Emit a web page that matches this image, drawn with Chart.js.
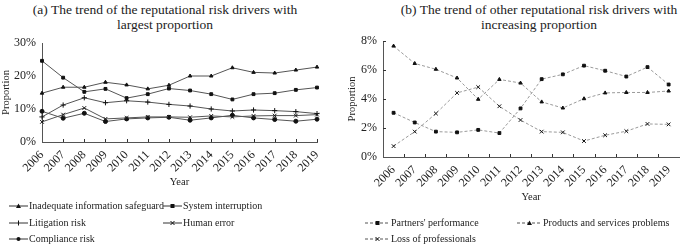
<!DOCTYPE html>
<html>
<head>
<meta charset="utf-8">
<script src="https://cdn.jsdelivr.net/npm/chart.js@4/dist/chart.umd.min.js"></script>
<style>
  html, body { margin:0; padding:0; background:#fff; }
  body { width:685px; height:245px; position:relative; overflow:hidden; font-family:'Liberation Serif','Times New Roman',serif; color:#222; }
  .title { position:absolute; text-align:center; font-size:13.5px; line-height:15px; color:#222; }
  canvas { position:absolute; top:0; }
  .leg { position:absolute; font-size:10px; line-height:12px; color:#222; white-space:nowrap; display:flex; align-items:center; }
  .leg svg { margin-right:1px; }
</style>
</head>
<body>
<div class="title" style="left:0;width:330px;top:2px;">(a) The trend of the reputational risk drivers with<br>largest proportion</div>
<div class="title" style="left:339px;width:400px;top:2px;">(b) The trend of other reputational risk drivers with<br>increasing proportion</div>
<div id="wrapA" style="position:absolute;left:0;top:0;width:340px;height:245px;"><canvas id="chartA" width="340" height="245"></canvas></div>
<div id="wrapB" style="position:absolute;left:340px;top:0;width:345px;height:245px;"><canvas id="chartB" width="345" height="245"></canvas></div>
<div id="legends"></div>
<script>
// ---- data ----
const years = ['2006','2007','2008','2009','2010','2011','2012','2013','2014','2015','2016','2017','2018','2019'];

const labelsA = ['Inadequate information safeguard','System interruption','Litigation risk','Human error','Compliance risk'];
const infoSafeguard      = [14.8,16.6,16.6,18.1,17.3,16.1,17.2,20.0,20.0,22.5,21.1,20.9,21.8,22.7];
const systemInterruption = [24.6,19.5,15.2,16.1,13.3,14.5,16.2,15.6,14.5,12.9,14.5,14.8,15.8,16.5];
const litigationRisk     = [7.6,11.2,13.4,11.9,12.5,12.1,11.4,10.9,10.0,9.4,9.7,9.5,9.2,8.6];
const humanError         = [6.1,8.3,10.3,7.0,7.3,7.6,7.6,7.5,7.9,7.6,7.9,8.0,8.0,8.3];
const complianceRisk     = [9.3,7.2,8.7,6.2,7.0,7.3,7.5,6.6,7.3,8.1,7.3,6.8,6.3,6.9];
const yTicksA = ['0%','5%','10%','15%','20%','25%','30%'];

const labelsB = ["Partners' performance",'Products and services problems','Loss of professionals'];
const partners      = [3.05,2.38,1.75,1.70,1.87,1.65,3.35,5.37,5.70,6.30,5.95,5.55,6.20,5.00];
const products      = [7.65,6.45,6.05,5.45,3.98,5.35,5.10,3.80,3.38,4.02,4.42,4.45,4.45,4.55];
const professionals = [0.75,1.75,3.00,4.42,4.82,3.50,2.55,1.75,1.70,1.10,1.50,1.78,2.28,2.25];
const yTicksB = ['0%','1%','2%','3%','4%','5%','6%','7%','8%'];

// ---- styling ----
Chart.defaults.font.family = "'Liberation Serif','Times New Roman',serif";
Chart.defaults.font.size = 12;
Chart.defaults.color = '#222';

const stylesA = ['triangle','rect','cross','crossRot','circle'];
const stylesB = ['rect','triangle','crossRot'];

const innerTicks = {
  id: 'innerTicks',
  afterDraw(chart, args, opts) {
    const ctx = chart.ctx, xs = chart.scales.x, ys = chart.scales.y;
    ctx.save();
    ctx.strokeStyle = '#333';
    ctx.lineWidth = 1;
    ctx.beginPath();
    const n = chart.data.labels.length;
    if (opts.mode === 'center') {
      for (let i = 1; i < n; i++) {
        const px = Math.round(xs.getPixelForValue(i)) + 0.5;
        ctx.moveTo(px, xs.top); ctx.lineTo(px, xs.top - 3);
      }
    } else {
      for (let i = 0; i < n - 1; i++) {
        const px = Math.round((xs.getPixelForValue(i) + xs.getPixelForValue(i + 1)) / 2) + 0.5;
        ctx.moveTo(px, xs.top); ctx.lineTo(px, xs.top - 3);
      }
    }
    if (opts.yTicks) {
      ys.ticks.forEach((t, i) => {
        if (i === 0) return;
        const py = Math.round(ys.getPixelForTick(i)) + 0.5;
        ctx.moveTo(ys.right, py); ctx.lineTo(ys.right + 3, py);
      });
    }
    ctx.stroke();
    ctx.restore();
  }
};

function mkDataset(label, data, style, dashed) {
  return {
    label, data,
    borderColor: dashed ? '#9a9a9a' : '#555',
    borderWidth: 1,
    borderDash: dashed ? [3, 2] : [],
    pointStyle: style,
    pointRadius: style === 'cross' || style === 'crossRot' ? 2.6 : 2,
    pointBackgroundColor: '#111',
    pointBorderColor: '#111',
    pointBorderWidth: 1,
    tension: 0,
    fill: false
  };
}

function scaleOpts(tickLabels, max, step, yWidth, yTitlePad, offset) {
  return {
    x: {
      type: 'category',
      offset: offset,
      grid: { display: true, drawOnChartArea: false, drawTicks: false, offset: offset },
      border: { display: true, color: '#555' },
      ticks: { minRotation: 45, maxRotation: 45, padding: 6, autoSkip: false, color: '#222', font: { size: 12 } },
      title: { display: true, text: 'Year', color: '#222', font: { size: 10.5 }, padding: { top: 2, bottom: 0 } },
      afterFit(s) { s.height = 47; }
    },
    y: {
      min: 0, max: max,
      grid: { display: true, drawOnChartArea: false, drawTicks: false },
      border: { display: true, color: '#555' },
      ticks: {
        stepSize: step, padding: 6, color: '#222', font: { size: 12 },
        callback: (v, i) => tickLabels[i]
      },
      title: { display: true, text: 'Proportion', color: '#222', font: { size: 10.5 }, padding: { top: yTitlePad, bottom: 0 } },
      afterFit(s) { s.width = yWidth; }
    }
  };
}

new Chart(document.getElementById('chartA'), {
  type: 'line',
  data: {
    labels: years,
    datasets: [
      mkDataset(labelsA[0], infoSafeguard, stylesA[0], false),
      mkDataset(labelsA[1], systemInterruption, stylesA[1], false),
      mkDataset(labelsA[2], litigationRisk, stylesA[2], false),
      mkDataset(labelsA[3], humanError, stylesA[3], false),
      mkDataset(labelsA[4], complianceRisk, stylesA[4], false)
    ]
  },
  options: {
    responsive: false, animation: false,
    layout: { padding: { left: 0, right: 23, top: 43, bottom: 56 } },
    plugins: { legend: { display: false }, tooltip: { enabled: false }, innerTicks: { mode: 'center', yTicks: false } },
    scales: scaleOpts(yTicksA, 30, 5, 42, 0, false)
  },
  plugins: [innerTicks]
});

new Chart(document.getElementById('chartB'), {
  type: 'line',
  data: {
    labels: years,
    datasets: [
      mkDataset(labelsB[0], partners, stylesB[0], true),
      mkDataset(labelsB[1], products, stylesB[1], true),
      mkDataset(labelsB[2], professionals, stylesB[2], true)
    ]
  },
  options: {
    responsive: false, animation: false,
    layout: { padding: { left: 0, right: 1, top: 41, bottom: 41 } },
    plugins: { legend: { display: false }, tooltip: { enabled: false }, innerTicks: { mode: 'between', yTicks: true } },
    scales: scaleOpts(yTicksB, 8, 1, 43, 6, true)
  },
  plugins: [innerTicks]
});

// ---- HTML legends ----
function markerSvg(style, cx, cy) {
  const c = '#111';
  if (style === 'triangle') return `<polygon points="${cx},${cy-2.5} ${cx+2.5},${cy+2} ${cx-2.5},${cy+2}" fill="${c}"/>`;
  if (style === 'rect') return `<rect x="${cx-2}" y="${cy-2}" width="4" height="4" fill="${c}"/>`;
  if (style === 'circle') return `<circle cx="${cx}" cy="${cy}" r="2" fill="${c}"/>`;
  if (style === 'cross') return `<path d="M${cx},${cy-2.5}V${cy+2.5}" stroke="${c}" stroke-width="1"/>`;
  if (style === 'crossRot') return `<path d="M${cx-2},${cy-2}L${cx+2},${cy+2}M${cx+2},${cy-2}L${cx-2},${cy+2}" stroke="${c}" stroke-width="1"/>`;
  return '';
}
function addLegend(label, style, dashed, x, y) {
  const w = dashed ? 25 : 19;
  const d = document.createElement('div');
  d.className = 'leg';
  d.style.left = x + 'px';
  d.style.top = (y - 6) + 'px';
  d.innerHTML = `<svg width="${w}" height="8" viewBox="0 0 ${w} 8"><line x1="0" y1="4" x2="${w}" y2="4" stroke="${dashed ? '#555' : '#333'}" stroke-width="1" ${dashed ? 'stroke-dasharray="3,2"' : ''}/>${markerSvg(style, w/2, 4)}</svg><span>${label}</span>`;
  document.getElementById('legends').appendChild(d);
}
const legPosA = [[9,206],[163,206],[9,223],[163,223],[9,239]];
labelsA.forEach((l, i) => addLegend(l, stylesA[i], false, legPosA[i][0], legPosA[i][1]));
const legPosB = [[365,223],[517,223],[365,239]];
labelsB.forEach((l, i) => addLegend(l, stylesB[i], true, legPosB[i][0], legPosB[i][1]));
</script>
</body>
</html>
